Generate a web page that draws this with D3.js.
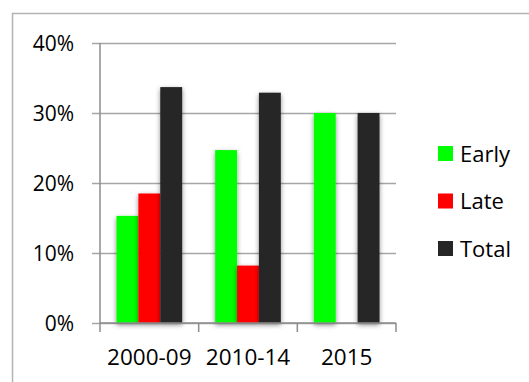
<!DOCTYPE html>
<html>
<head>
<meta charset="utf-8">
<script src="https://cdn.jsdelivr.net/npm/d3@7"></script>
<style>
  html, body { margin: 0; padding: 0; background: #fff; }
  svg { display: block; }
  text { font-family: "Open Sans", sans-serif; fill: #000; }
</style>
</head>
<body>
<div id="chart"></div>
<script>
// Share of cases by period
const periods = ["2000-09", "2010-14", "2015"];
const seriesNames = ["Early", "Late", "Total"];
const earlyValues = [0.153, 0.247, 0.30];
const lateValues = [0.185, 0.082, 0.0];
const totalValues = [0.337, 0.329, 0.30];
const seriesColors = ["#00ff00", "#ff0000", "#262626"];
const yTickValues = [0, 0.1, 0.2, 0.3, 0.4];

const seriesValues = [earlyValues, lateValues, totalValues];

const W = 529, H = 382;
const margin = { left: 100, right: 133, top: 43, bottom: 59 };
const innerW = W - margin.left - margin.right;
const innerH = H - margin.top - margin.bottom;

const svg = d3.select("#chart").append("svg")
  .attr("width", W).attr("height", H);

// soft drop shadow under the bars
const defs = svg.append("defs");
const f = defs.append("filter").attr("id", "barShadow")
  .attr("x", "-50%").attr("y", "-10%").attr("width", "200%").attr("height", "130%");
f.append("feDropShadow").attr("dx", 0).attr("dy", 2)
  .attr("stdDeviation", 2.6).attr("flood-color", "#000").attr("flood-opacity", 0.45);

// outer chart frame
svg.append("path")
  .attr("d", `M12.5,${H} V13.5 H${W}`)
  .attr("fill", "none").attr("stroke", "#b3b3b3").attr("stroke-width", 1.5);

const g = svg.append("g").attr("transform", `translate(${margin.left},${margin.top})`);

const x0 = d3.scaleBand().domain(periods).range([0, innerW]).paddingInner(0).paddingOuter(0);
const x1 = d3.scaleBand().domain(seriesNames).range([16.5, x0.bandwidth() - 16.5]);
const y = d3.scaleLinear().domain([0, 0.4]).range([innerH, 0]);

// horizontal gridlines with left tick marks
const yAxis = d3.axisLeft(y).tickValues(yTickValues)
  .tickFormat(d3.format(".0%")).tickSize(-innerW).tickPadding(26);
const ya = g.append("g").call(yAxis);
ya.select(".domain").remove();
ya.selectAll(".tick line").attr("x1", -8)
  .attr("stroke", "#a6a6a6").attr("stroke-width", 1.5);
ya.selectAll(".tick text").style("font-size", "21px").attr("dy", "0.36em");

// bars
const groups = g.append("g").selectAll("g").data(periods).join("g")
  .attr("transform", d => `translate(${x0(d)},0)`);
groups.selectAll("rect")
  .data((p, i) => seriesNames.map((s, k) => ({ s, v: seriesValues[k][i], c: seriesColors[k] })))
  .join("rect")
  .filter(d => d.v > 0)
  .attr("x", d => x1(d.s))
  .attr("width", x1.bandwidth())
  .attr("y", d => y(d.v))
  .attr("height", d => innerH - y(d.v))
  .attr("fill", d => d.c)
  .attr("filter", "url(#barShadow)");

// vertical axis line
g.append("line").attr("x1", 0).attr("x2", 0).attr("y1", 0).attr("y2", innerH)
  .attr("stroke", "#8c8c8c").attr("stroke-width", 1.5);

// category axis
const xAxis = d3.axisBottom(x0).tickSize(0).tickPadding(26);
const xa = g.append("g").attr("transform", `translate(0,${innerH})`).call(xAxis);
xa.select(".domain").remove();
xa.selectAll(".tick text").style("font-size", "22.5px").attr("dy", "0.71em");
g.append("line").attr("x1", 0).attr("x2", innerW).attr("y1", innerH).attr("y2", innerH)
  .attr("stroke", "#8c8c8c").attr("stroke-width", 1.5);
const boundaries = d3.range(periods.length + 1).map(i => i * x0.bandwidth());
g.append("g").selectAll("line").data(boundaries).join("line")
  .attr("x1", d => d).attr("x2", d => d)
  .attr("y1", innerH).attr("y2", innerH + 9)
  .attr("stroke", "#8c8c8c").attr("stroke-width", 1.5);

// legend
const legend = svg.append("g").attr("transform", "translate(438,146)");
const items = legend.selectAll("g").data(seriesNames).join("g")
  .attr("transform", (d, i) => `translate(0,${i * 47.5})`);
items.append("rect").attr("width", 15).attr("height", 15)
  .attr("fill", (d, i) => seriesColors[i]);
items.append("text").attr("x", 22).attr("y", 8).attr("dy", "0.36em")
  .style("font-size", "22px").text(d => d);
</script>
</body>
</html>
